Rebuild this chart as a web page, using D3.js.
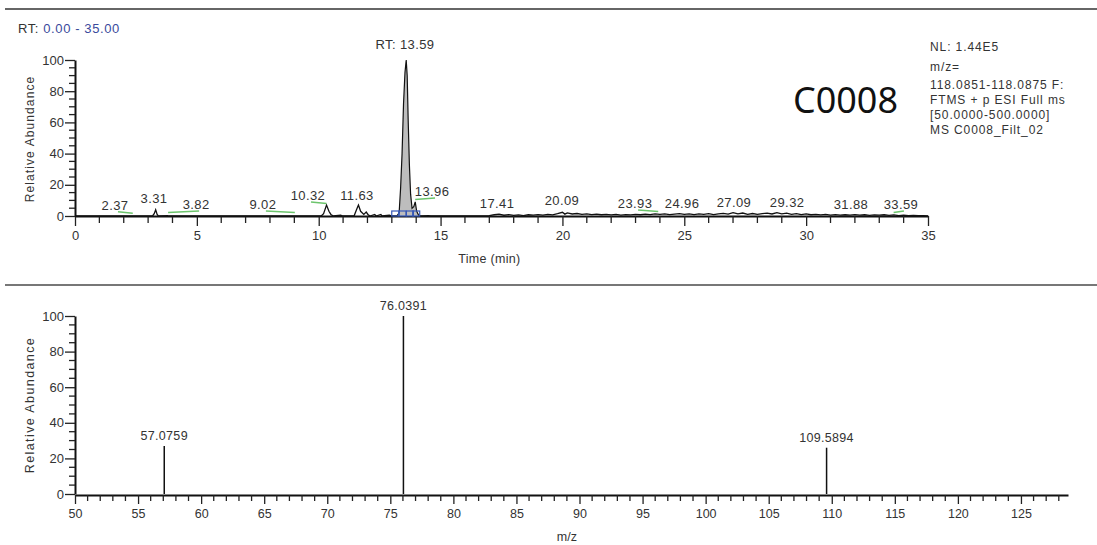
<!DOCTYPE html>
<html>
<head>
<meta charset="utf-8">
<script src="https://cdnjs.cloudflare.com/ajax/libs/d3/7.8.5/d3.min.js"></script>
<style>
  body { margin: 0; background: #fff; }
  text { font-family: "Liberation Sans", Arial, sans-serif; fill: #333; }
</style>
</head>
<body>
<div id="my_dataviz"></div>
<script>
// ---- chromatogram (top) ----
var traceData = [[0,0],[3.18,0],[3.25,1.5],[3.31,4],[3.37,1],[3.42,0],[3.8,0.3],[3.85,0],
  [10.1,0],[10.2,1.5],[10.32,7],[10.42,3],[10.5,1],[10.6,0],[10.9,0.5],[11.0,0],
  [11.45,0],[11.55,4],[11.63,7],[11.72,3],[11.85,1],[11.95,2.5],[12.02,1],[12.1,0],
  [12.3,1],[12.35,0],[12.55,1],[12.6,0],[12.9,0.5],[13.0,0],[13.2,0],
  [14.2,0],[14.5,0.3],[14.6,0],[16.8,0],
  [17.0,0.3],[17.2,0.8],[17.4,1.2],[17.6,0.5],[17.8,0.9],[18.0,0.4],[18.2,0.7],[18.4,0.3],
  [18.6,0.8],[18.8,0.5],[19.0,0.9],[19.2,0.6],[19.4,1.1],[19.6,0.7],[19.8,1.5],[20.0,2.4],
  [20.1,1.2],[20.2,2.0],[20.4,1.3],[20.6,1.6],[20.8,1.0],[21.0,1.4],[21.2,0.9],[21.4,1.2],
  [21.6,0.8],[21.8,1.1],[22.0,0.7],[22.2,1.0],[22.4,0.6],[22.6,0.9],[22.8,0.7],[23.0,1.1],
  [23.2,0.8],[23.4,1.2],[23.6,0.9],[23.8,1.4],[24.0,1.0],[24.2,1.3],[24.4,0.9],[24.6,1.2],
  [24.8,1.5],[25.0,1.0],[25.2,1.4],[25.4,0.9],[25.6,1.3],[25.8,1.1],[26.0,1.5],[26.2,0.9],
  [26.4,1.3],[26.6,1.7],[26.8,1.2],[27.0,2.1],[27.2,1.4],[27.4,1.9],[27.6,1.1],[27.8,1.6],
  [28.0,1.0],[28.2,1.5],[28.4,1.9],[28.6,1.3],[28.8,2.2],[29.0,1.4],[29.2,1.8],[29.4,1.1],
  [29.6,1.5],[29.8,0.9],[30.0,1.3],[30.2,0.8],[30.4,1.1],[30.6,0.7],[30.8,1.0],[31.0,0.6],
  [31.2,0.9],[31.4,0.5],[31.6,0.8],[31.8,0.6],[32.0,0.9],[32.2,0.5],[32.4,0.8],[32.6,0.4],
  [32.8,0.7],[33.0,0.5],[33.2,0.8],[33.4,0.4],[33.6,0.7],[33.8,0.3],[34.0,0.5],[34.2,0.3],
  [34.4,0.4],[34.6,0.2],[34.8,0.3],[35.0,0]];

var mainPeak = [[13.2,0],[13.3,2],[13.36,18],[13.42,40],[13.48,72],[13.54,92],[13.59,100],
  [13.63,90],[13.67,62],[13.72,33],[13.77,14],[13.83,5],[13.9,6],[13.96,9],[14.02,3],
  [14.1,0.5],[14.2,0]];

var peakRT        = ["2.37","3.31","3.82","9.02","10.32","11.63","13.96","17.41","20.09","23.93","24.96","27.09","29.32","31.88","33.59"];
var peakLabelTime = [1.64, 3.24, 4.97, 7.71, 9.56, 11.57, 14.65, 17.32, 19.98, 22.98, 24.91, 27.04, 29.22, 31.84, 33.89];
var peakLabelLvl  = [4, 8.3, 4.5, 4.5, 10.3, 10.3, 12.8, 5, 7, 5.1, 5, 6, 6, 4.5, 4.5];
var peakGreen     = [true, false, true, true, true, false, true, false, false, true, false, false, false, false, true];
var blueMarks = [13.12, 13.42, 13.72, 13.98];

var infoLines = ["NL: 1.44E5", "m/z=", "118.0851-118.0875 F:", "FTMS + p ESI Full ms", "[50.0000-500.0000]", "MS C0008_Filt_02"];

// ---- spectrum (bottom) ----
var mzValues  = [57.0759, 76.0391, 109.5894];
var mzAbund   = [27, 100, 26];

var W = 1097, H = 545;

var svg = d3.select("#my_dataviz")
  .append("svg")
    .attr("width", W)
    .attr("height", H);

// separator lines
svg.append("line").attr("x1", 5).attr("x2", W).attr("y1", 9).attr("y2", 9)
  .attr("stroke", "#666").attr("stroke-width", 2);
svg.append("line").attr("x1", 5).attr("x2", W).attr("y1", 285).attr("y2", 285)
  .attr("stroke", "#777").attr("stroke-width", 2);

// ================= TOP =================
var x1 = d3.scaleLinear().domain([0, 35]).range([75, 928]);
var y1 = d3.scaleLinear().domain([0, 100]).range([216, 60]);

function minorTicks(g, scale, vals, len, horiz) {
  g.selectAll("line.minor").data(vals).enter().append("line")
    .attr("class", "minor")
    .attr("x1", function (d) { return horiz ? scale(d) : 0; })
    .attr("x2", function (d) { return horiz ? scale(d) : -len; })
    .attr("y1", function (d) { return horiz ? 0 : scale(d); })
    .attr("y2", function (d) { return horiz ? len : scale(d); })
    .attr("stroke", "#222").attr("stroke-width", 1.3);
}

function styleAxis(g) {
  g.select(".domain").attr("stroke", "#111").attr("stroke-width", 2);
  g.selectAll(".tick line").attr("stroke", "#222").attr("stroke-width", 1.3);
  g.selectAll(".tick text").style("font-size", "13px").attr("fill", "#333")
    .style("font-family", "'Liberation Sans', Arial, sans-serif");
}

var gx1 = svg.append("g").attr("transform", "translate(0,216)")
  .call(d3.axisBottom(x1).tickValues(d3.range(0, 36, 5)).tickSize(10).tickPadding(5).tickSizeOuter(0));
styleAxis(gx1);
minorTicks(gx1, x1, d3.range(0, 36, 1).filter(function (d) { return d % 5 != 0; }), 7, true);

var gy1 = svg.append("g").attr("transform", "translate(75,0)")
  .call(d3.axisLeft(y1).tickValues(d3.range(0, 101, 20)).tickSize(10).tickPadding(1).tickSizeOuter(0));
styleAxis(gy1);
minorTicks(gy1, y1, d3.range(0, 101, 5).filter(function (d) { return d % 20 != 0; }), 6, false);

var line1 = d3.line().x(function (d) { return x1(d[0]); }).y(function (d) { return y1(d[1]); });

svg.append("path").datum(traceData).attr("d", line1)
  .attr("fill", "none").attr("stroke", "#111").attr("stroke-width", 1.3);

var area1 = d3.area().x(function (d) { return x1(d[0]); }).y0(y1(0)).y1(function (d) { return y1(d[1]); });
svg.append("path").datum(mainPeak).attr("d", area1).attr("fill", "#bdbdbd");
svg.append("path").datum(mainPeak).attr("d", line1)
  .attr("fill", "none").attr("stroke", "#111").attr("stroke-width", 1.2);

// integration marks
svg.selectAll("rect.blue").data(blueMarks).enter().append("rect")
  .attr("class", "blue")
  .attr("x", function (d) { return x1(d) - 3; })
  .attr("y", y1(0) - 5).attr("width", 7).attr("height", 5)
  .attr("fill", "none").attr("stroke", "#3557b7").attr("stroke-width", 1.2);

// peak labels
var labels = svg.append("g");
peakRT.forEach(function (rt, i) {
  var lx = x1(peakLabelTime[i]), ly = y1(peakLabelLvl[i]);
  if (peakGreen[i]) {
    labels.append("path")
      .attr("d", "M" + (lx + 3) + "," + (ly + 2) + "L" + x1(+rt) + "," + (ly + 3.5))
      .attr("stroke", "#6cc46c").attr("stroke-width", 1.5).attr("fill", "none");
  }
  labels.append("text").attr("x", lx).attr("y", ly)
    .attr("text-anchor", "middle").style("font-size", "13px").style("letter-spacing", "0.4px")
    .text(rt);
});
svg.append("text").attr("x", x1(13.54)).attr("y", y1(107))
  .attr("text-anchor", "middle").style("font-size", "13px").style("letter-spacing", "0.4px")
  .text("RT: 13.59");

// titles
var rt = svg.append("text").attr("x", 18).attr("y", 33).style("font-size", "13px").style("letter-spacing", "0.6px");
rt.append("tspan").attr("fill", "#333").text("RT: ");
rt.append("tspan").style("fill", "#3a4a9c").text("0.00 - 35.00");

svg.append("text").attr("x", x1(17)).attr("y", 263).attr("text-anchor", "middle")
  .style("font-size", "12.5px").style("letter-spacing", "0.3px").text("Time (min)");

svg.append("text").attr("transform", "translate(34,139) rotate(-90)").attr("text-anchor", "middle")
  .style("font-size", "12px").style("letter-spacing", "1.1px").text("Relative Abundance");

svg.append("text").attr("x", 793).attr("y", 113).attr("textLength", 105).attr("lengthAdjust", "spacingAndGlyphs")
  .style("font-size", "36px").style("font-family", "'Noto Sans', 'Open Sans', sans-serif").style("fill", "#111")
  .text("C0008");

svg.selectAll("text.info").data(infoLines).enter().append("text")
  .attr("class", "info")
  .attr("x", 930)
  .attr("y", function (d, i) { return [51, 71, 89, 104, 119, 134][i]; })
  .style("font-size", "12px").style("letter-spacing", "0.9px")
  .text(function (d) { return d; });

// ================= BOTTOM =================
var x2 = d3.scaleLinear().domain([50, 128.73]).range([75, 1068]);
var y2 = d3.scaleLinear().domain([0, 100]).range([494, 316]);

var gx2 = svg.append("g").attr("transform", "translate(0,495)")
  .call(d3.axisBottom(x2).tickValues(d3.range(50, 126, 5)).tickSize(9).tickPadding(5).tickSizeOuter(0));
styleAxis(gx2);
gx2.selectAll(".tick text").style("font-size", "12.5px");
minorTicks(gx2, x2, d3.range(50, 129, 1).filter(function (d) { return d % 5 != 0; }), 6, true);

var gy2 = svg.append("g").attr("transform", "translate(75,0)")
  .call(d3.axisLeft(y2).tickValues(d3.range(0, 101, 20)).tickSize(10).tickPadding(1).tickSizeOuter(0));
styleAxis(gy2);
minorTicks(gy2, y2, d3.range(0, 101, 5).filter(function (d) { return d % 20 != 0; }), 6, false);

svg.selectAll("line.stick").data(mzValues).enter().append("line")
  .attr("class", "stick")
  .attr("x1", function (d) { return x2(d); }).attr("x2", function (d) { return x2(d); })
  .attr("y1", y2(0)).attr("y2", function (d, i) { return y2(mzAbund[i]); })
  .attr("stroke", "#111").attr("stroke-width", 1.5);

svg.selectAll("text.mz").data(mzValues).enter().append("text")
  .attr("class", "mz")
  .attr("x", function (d) { return x2(d); })
  .attr("y", function (d, i) { return y2(mzAbund[i]) - 6; })
  .attr("text-anchor", "middle").style("font-size", "12.5px").style("letter-spacing", "0.3px")
  .text(function (d) { return d.toFixed(4); });

svg.append("text").attr("x", x2(89)).attr("y", 541).attr("text-anchor", "middle")
  .style("font-size", "12.5px").text("m/z");

svg.append("text").attr("transform", "translate(34,405) rotate(-90)").attr("text-anchor", "middle")
  .style("font-size", "12.5px").style("letter-spacing", "1.4px").text("Relative Abundance");
</script>
</body>
</html>
